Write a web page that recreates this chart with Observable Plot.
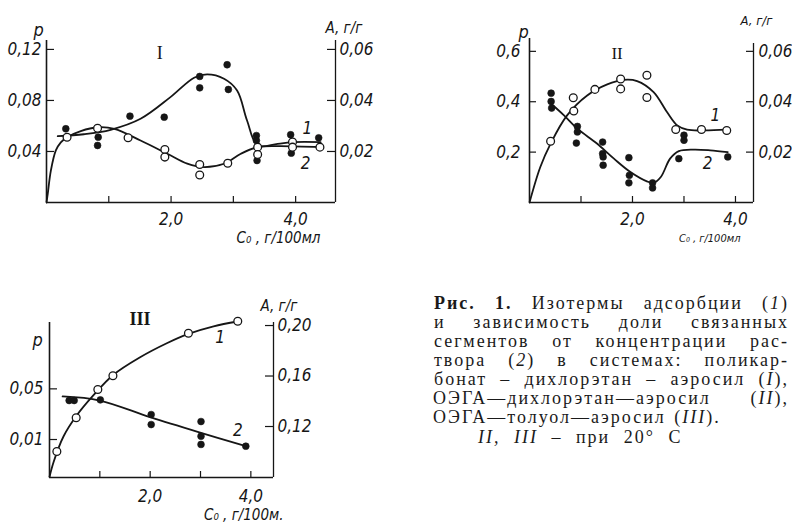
<!DOCTYPE html>
<html><head><meta charset="utf-8">
<script src="https://cdn.jsdelivr.net/npm/d3@7"></script>
<script src="https://cdn.jsdelivr.net/npm/@observablehq/plot@0.6"></script>
<style>
html,body{margin:0;padding:0;background:#fff;width:792px;height:524px;overflow:hidden;}
#root{position:relative;width:792px;height:524px;overflow:hidden;background:#fff;}
.panel{position:absolute;}
.cap{position:absolute;white-space:nowrap;font-family:"Liberation Serif","DejaVu Serif",serif;font-size:18px;letter-spacing:2px;color:#1a1a1a;line-height:18px;}
.cap i{font-style:italic;}
</style></head><body><div id="root"></div>
<script>
// ===== Panel I =====
const p1XTicks = [1, 2, 3, 4];
const p1XLabelTicks = [2, 4];
const p1XTickLabels = ["2,0", "4,0"];
const p1PTicks = [0.04, 0.08, 0.12];
const p1PTickLabels = ["0,04", "0,08", "0,12"];
const p1ATicks = [0.02, 0.04, 0.06];
const p1ATickLabels = ["0,02", "0,04", "0,06"];
const p1OpenX = [0.33, 0.82, 1.31, 1.90, 1.90, 2.46, 2.46, 2.91, 3.39, 3.39, 3.95, 3.95, 4.39];
const p1OpenA = [0.0256, 0.0291, 0.0254, 0.0208, 0.0178, 0.0149, 0.0108, 0.0154, 0.0217, 0.0188, 0.0237, 0.0217, 0.0217];
const p1FilledX = [0.31, 0.83, 0.82, 1.34, 1.89, 2.46, 2.46, 2.90, 2.92, 3.37, 3.37, 3.38, 3.92, 3.93, 4.37];
const p1FilledP = [0.0578, 0.0512, 0.0447, 0.0677, 0.0669, 0.0988, 0.0899, 0.108, 0.0886, 0.0525, 0.0486, 0.0329, 0.0531, 0.0387, 0.0507];
const p1Curve1X = [0, 0.02, 0.07, 0.15, 0.23, 0.33, 0.55, 0.82, 1.09, 1.51, 1.94, 2.26, 2.53, 2.85, 3.12, 3.39, 3.71, 4.40];
const p1Curve1A = [0, 0.0034, 0.0125, 0.0204, 0.0236, 0.0256, 0.028, 0.0295, 0.0289, 0.0243, 0.0191, 0.0152, 0.0139, 0.0152, 0.0191, 0.0217, 0.0221, 0.0217];
const p1Curve2X = [0.18, 0.60, 1.03, 1.51, 1.99, 2.37, 2.58, 2.85, 3.06, 3.22, 3.39, 3.71, 3.97, 4.40];
const p1Curve2P = [0.052, 0.0535, 0.057, 0.0656, 0.0826, 0.0978, 0.1004, 0.097, 0.0878, 0.0643, 0.0447, 0.046, 0.0473, 0.0473];
const p1Notes = ["I", "1", "2"];
const p1NoteX = [1.82, 4.19, 4.16];
const p1NoteP = [0.117, 0.0578, 0.0303];

// ===== Panel II =====
const p2XTicks = [1, 2, 3, 4];
const p2XLabelTicks = [2, 4];
const p2XTickLabels = ["2,0", "4,0"];
const p2PTicks = [0.2, 0.4, 0.6];
const p2PTickLabels = ["0,2", "0,4", "0,6"];
const p2ATicks = [0.02, 0.04, 0.06];
const p2ATickLabels = ["0,02", "0,04", "0,06"];
const p2OpenX = [0.41, 0.85, 0.86, 1.27, 1.77, 1.77, 2.28, 2.28, 2.84, 3.34, 3.83];
const p2OpenA = [0.0243, 0.0416, 0.0363, 0.0449, 0.049, 0.0451, 0.0505, 0.0417, 0.029, 0.029, 0.0286];
const p2FilledX = [0.42, 0.42, 0.43, 0.93, 0.93, 0.91, 1.42, 1.42, 1.43, 1.43, 1.93, 1.94, 1.93, 2.39, 2.39, 2.90, 3.00, 3.00, 3.85];
const p2FilledP = [0.434, 0.401, 0.375, 0.302, 0.280, 0.236, 0.240, 0.194, 0.181, 0.148, 0.178, 0.108, 0.078, 0.078, 0.058, 0.174, 0.267, 0.247, 0.181];
const p2Curve1X = [0, 0.21, 0.41, 0.73, 1.12, 1.51, 1.83, 2.09, 2.41, 2.67, 2.87, 3.06, 3.39, 3.83];
const p2Curve1A = [0, 0.0141, 0.0234, 0.0346, 0.0425, 0.0469, 0.0487, 0.0482, 0.0438, 0.0359, 0.0306, 0.0289, 0.0286, 0.0289];
const p2Curve2X = [0.42, 0.67, 0.93, 1.31, 1.64, 1.96, 2.28, 2.41, 2.55, 2.73, 2.90, 3.19, 3.51, 3.85];
const p2Curve2P = [0.392, 0.346, 0.293, 0.234, 0.174, 0.121, 0.084, 0.078, 0.101, 0.174, 0.204, 0.21, 0.207, 0.200];
const p2Notes = ["II", "1", "2"];
const p2NoteX = [1.70, 3.61, 3.46];
const p2NoteP = [0.59, 0.346, 0.154];

// ===== Panel III =====
const p3XTicks = [1, 2, 3, 4];
const p3XLabelTicks = [2, 4];
const p3XTickLabels = ["2,0", "4,0"];
const p3PTicks = [0.01, 0.05];
const p3PTickLabels = ["0,01", "0,05"];
const p3ATicks = [0.12, 0.16, 0.20];
const p3ATickLabels = ["0,12", "0,16", "0,20"];
const p3OpenX = [0.146, 0.53, 0.96, 1.26, 2.76, 3.74];
const p3OpenA = [0.1002, 0.1269, 0.1493, 0.1602, 0.1939, 0.2034];
const p3FilledX = [0.39, 0.49, 1.01, 2.02, 2.02, 3.01, 3.01, 3.01, 3.90];
const p3FilledP = [0.0408, 0.0408, 0.0413, 0.0297, 0.0218, 0.0242, 0.0126, 0.0061, 0.0047];
const p3Curve1X = [0, 0.08, 0.28, 0.54, 0.87, 1.27, 1.80, 2.33, 2.76, 3.26, 3.74];
const p3Curve1A = [0.08, 0.0917, 0.1123, 0.1287, 0.1446, 0.161, 0.1749, 0.186, 0.1934, 0.1994, 0.2032];
const p3Curve2X = [0.26, 1.0, 2.0, 2.96, 3.90];
const p3Curve2P = [0.044, 0.0408, 0.0276, 0.0158, 0.0047];
const p3Notes = ["III", "1", "2"];
const p3NoteX = [1.80, 3.39, 3.74];
const p3NoteP = [0.1053, 0.0908, 0.0171];

// ===== Caption =====
const captionLines = [
  "Рис. 1. Изотермы адсорбции (1)",
  "и зависимость доли связанных",
  "сегментов от концентрации рас-",
  "твора (2) в системах: поликар-",
  "бонат – дихлорэтан – аэросил (I),",
  "ОЭГА—дихлорэтан—аэросил (II),",
  "ОЭГА—толуол—аэросил (III).",
  "II, III – при 20° C"
];

const INK = "#161616";
const tickFont = '"DejaVu Sans Condensed","Liberation Sans Narrow","DejaVu Sans",sans-serif';
const serifFont = '"Liberation Serif","DejaVu Serif",serif';

function panel(cfg) {
  const {width, height, m, xDomain, pDomain, aDomain} = cfg;
  const fw = width - m.left - m.right;
  const fh = height - m.top - m.bottom;
  const toP = a => pDomain[0] + (a - aDomain[0]) / (aDomain[1] - aDomain[0]) * (pDomain[1] - pDomain[0]);
  const open = cfg.openX.map((x, i) => ({x, y: toP(cfg.openA[i])}));
  const filled = cfg.filledX.map((x, i) => ({x, y: cfg.filledP[i]}));
  const c1 = cfg.c1X.map((x, i) => ({x, y: toP(cfg.c1A[i])}));
  const c2 = cfg.c2X.map((x, i) => ({x, y: cfg.c2P[i]}));
  const notes = cfg.notes.map((t, i) => ({t, x: cfg.noteX[i], y: cfg.noteP[i]}));
  const pMap = new Map(cfg.pTicks.map((v, i) => [v, cfg.pLabels[i]]));
  const aVals = cfg.aTicks.map(toP);
  const aMap = new Map(aVals.map((v, i) => [v, cfg.aLabels[i]]));
  const xMap = new Map(cfg.xLabelTicks.map((v, i) => [v, cfg.xLabels[i]]));
  const tx = {fontSize: cfg.fs, fontFamily: tickFont, fill: INK};
  const svg = Plot.plot({
    width, height,
    marginLeft: m.left, marginRight: m.right, marginTop: m.top, marginBottom: m.bottom,
    x: {domain: xDomain, axis: null},
    y: {domain: pDomain, axis: null},
    style: {background: "transparent", color: INK, fontFamily: tickFont, overflow: "visible"},
    marks: [
      Plot.ruleX([xDomain[0]], {stroke: INK, strokeWidth: 1.6}),
      Plot.ruleX([xDomain[1]], {stroke: INK, strokeWidth: 1.3, insetTop: cfg.rightInsetTop || 0}),
      Plot.ruleY([pDomain[0]], {stroke: INK, strokeWidth: 1.6}),
      Plot.ruleY(cfg.pTicks, {stroke: INK, strokeWidth: 1.2, insetRight: fw - cfg.tickLen}),
      Plot.ruleY(aVals, {stroke: INK, strokeWidth: 1.2, insetLeft: fw - cfg.tickLen}),
      Plot.ruleX(cfg.xTicks, {stroke: INK, strokeWidth: 1.2, insetTop: fh - 6}),
      Plot.axisY(cfg.pTicks, {anchor: "left", tickSize: 0, tickPadding: cfg.padL, tickFormat: d => pMap.get(d), label: null, ...tx}),
      Plot.axisY(aVals, {anchor: "right", tickSize: 0, tickPadding: cfg.padR, tickFormat: d => aMap.get(d), label: null, ...tx}),
      Plot.axisX(cfg.xLabelTicks, {anchor: "bottom", tickSize: 0, tickPadding: cfg.padB, tickFormat: d => xMap.get(d), label: null, ...tx}),
      Plot.line(c1, {x: "x", y: "y", curve: "catmull-rom", stroke: INK, strokeWidth: 1.8}),
      Plot.line(c2, {x: "x", y: "y", curve: "catmull-rom", stroke: INK, strokeWidth: 1.8}),
      Plot.dot(filled, {x: "x", y: "y", r: 3.4, fill: INK, stroke: INK, strokeWidth: 0.6}),
      Plot.dot(open, {x: "x", y: "y", r: 3.9, fill: "white", stroke: INK, strokeWidth: 1.3}),
      Plot.text(notes.slice(0, 1), {x: "x", y: "y", text: "t", fontSize: cfg.titleFs, fontFamily: serifFont, fontWeight: cfg.titleWeight || "normal", fill: INK}),
      Plot.text(notes.slice(1), {x: "x", y: "y", text: "t", fontSize: 17, fill: INK}),
      Plot.text(["p"], {frameAnchor: "top-left", text: d => d, dx: cfg.pLab[0], dy: cfg.pLab[1], fontSize: 18, fill: INK}),
      Plot.text([cfg.aTitle], {frameAnchor: "top-right", text: d => d, textAnchor: "start", dx: cfg.aLab[0], dy: cfg.aLab[1], fontSize: cfg.aLabFs, fill: INK}),
      Plot.text([cfg.xTitle], {frameAnchor: "bottom-right", text: d => d, textAnchor: "end", dx: cfg.xLab[0], dy: cfg.xLab[1], fontSize: cfg.xLabFs, fill: INK})
    ]
  });
  // italic for every text except the roman panel numerals
  svg.querySelectorAll("text").forEach(t => {
    const roman = /^I+$/.test(t.textContent.trim());
    t.style.fontStyle = roman ? "normal" : "italic";
  });
  return svg;
}

const root = document.getElementById("root");
function place(svg, left, top) {
  const d = document.createElement("div");
  d.className = "panel";
  d.style.left = left + "px";
  d.style.top = top + "px";
  d.appendChild(svg);
  root.appendChild(d);
}

place(panel({
  width: 380, height: 250, m: {left: 46, right: 45, top: 40, bottom: 48},
  xDomain: [0, 4.64], pDomain: [0, 0.127], aDomain: [0, 0.0635],
  xTicks: p1XTicks, xLabelTicks: p1XLabelTicks, xLabels: p1XTickLabels,
  pTicks: p1PTicks, pLabels: p1PTickLabels, aTicks: p1ATicks, aLabels: p1ATickLabels,
  openX: p1OpenX, openA: p1OpenA, filledX: p1FilledX, filledP: p1FilledP,
  c1X: p1Curve1X, c1A: p1Curve1A, c2X: p1Curve2X, c2P: p1Curve2P,
  notes: p1Notes, noteX: p1NoteX, noteP: p1NoteP,
  tickLen: 8, padL: 5, padR: 4, padB: 10, fs: 17, titleFs: 18,
  pLab: [-13, -17], aLab: [-10, -18], aLabFs: 15, aTitle: "A, г/г",
  xLab: [-15, 40], xLabFs: 15, xTitle: "C₀ , г/100мл"
}), 0, 0);

place(panel({
  width: 372, height: 250, m: {left: 109, right: 39, top: 38, bottom: 48},
  xDomain: [0, 4.35], pDomain: [0, 0.651], aDomain: [0, 0.0651],
  xTicks: p2XTicks, xLabelTicks: p2XLabelTicks, xLabels: p2XTickLabels,
  pTicks: p2PTicks, pLabels: p2PTickLabels, aTicks: p2ATicks, aLabels: p2ATickLabels,
  openX: p2OpenX, openA: p2OpenA, filledX: p2FilledX, filledP: p2FilledP,
  c1X: p2Curve1X, c1A: p2Curve1A, c2X: p2Curve2X, c2P: p2Curve2P,
  notes: p2Notes, noteX: p2NoteX, noteP: p2NoteP,
  tickLen: 7, padL: 9, padR: 5, padB: 10, fs: 17, titleFs: 17, rightInsetTop: 5,
  pLab: [-11, -13], aLab: [-13, -23], aLabFs: 13, aTitle: "A, г/г",
  xLab: [-13, 39], xLabFs: 11, xTitle: "C₀ , г/100мл"
}), 420, 0);

place(panel({
  width: 320, height: 254, m: {left: 49, right: 47, top: 52, bottom: 47},
  xDomain: [0, 4.45], pDomain: [-0.020, 0.1024], aDomain: [0.0796, 0.2024],
  xTicks: p3XTicks, xLabelTicks: p3XLabelTicks, xLabels: p3XTickLabels,
  pTicks: p3PTicks, pLabels: p3PTickLabels, aTicks: p3ATicks, aLabels: p3ATickLabels,
  openX: p3OpenX, openA: p3OpenA, filledX: p3FilledX, filledP: p3FilledP,
  c1X: p3Curve1X, c1A: p3Curve1A, c2X: p3Curve2X, c2P: p3Curve2P,
  notes: p3Notes, noteX: p3NoteX, noteP: p3NoteP,
  tickLen: 8, padL: 6, padR: 4, padB: 12, fs: 17, titleFs: 18, titleWeight: "bold",
  pLab: [-17, 11], aLab: [-13, -22], aLabFs: 15, aTitle: "A, г/г",
  xLab: [10, 42], xLabFs: 15, xTitle: "C₀ , г/100м."
}), 0, 270);

// caption lines (justified to the right edge of the page)
const capTops = [294, 313, 332, 351, 370, 389, 408, 428];
const capLeft = [434, 434, 434, 434, 434, 433, 433, 478];
const capRight = [789, 789, 789, 789, 789, 789, null, null];
const capWordSpacing = [0, 0, 0, 0, 0, 0, 2, 7];
const esc = s => s.replace(/&/g, "&amp;").replace(/</g, "&lt;");
captionLines.forEach((t, i) => {
  const d = document.createElement("div");
  d.className = "cap";
  d.style.top = capTops[i] + "px";
  d.style.left = capLeft[i] + "px";
  d.style.wordSpacing = capWordSpacing[i] + "px";
  if (capRight[i]) {
    d.style.width = (capRight[i] - capLeft[i]) + "px";
    d.style.textAlign = "justify";
    d.style.textAlignLast = "justify";
  }
  let h = esc(t)
    .replace(/\((\d)\)/g, "(<i>$1</i>)")
    .replace(/\((I{1,3})\)/g, "(<i>$1</i>)");
  if (i === 0) h = h.replace("Рис. 1.", "<b>Рис. 1.</b>");
  if (i === 7) h = h.replace("II, III", "<i>II, III</i>");
  d.innerHTML = h;
  root.appendChild(d);
});
</script>
</body></html>
